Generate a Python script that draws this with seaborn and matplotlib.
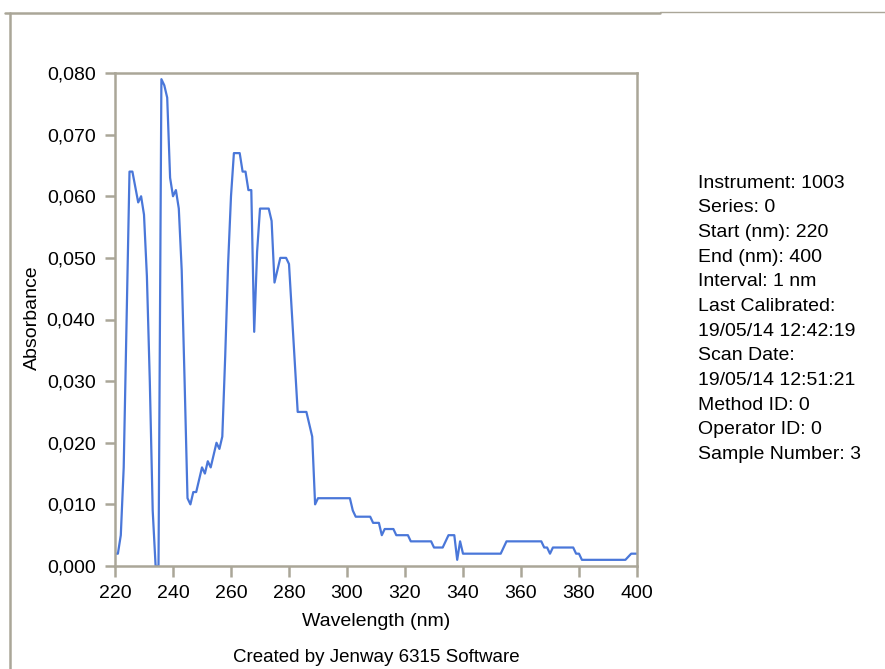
import matplotlib
matplotlib.use("Agg")
import matplotlib.pyplot as plt
from matplotlib.lines import Line2D
from matplotlib.ticker import FuncFormatter
import seaborn as sns
import pandas as pd

wavelength = [220, 221, 222, 223, 225, 226, 228, 229, 230, 231, 232, 233, 234, 235,
              236, 237, 238, 239, 240, 241, 242, 243, 244, 245, 246, 247, 248, 249,
              250, 251, 252, 253, 254, 255, 256, 257, 258, 259, 260, 261, 263, 264,
              265, 266, 267, 268, 269, 270, 273, 274, 275, 276, 277, 279, 280, 281,
              282, 283, 286, 287, 288, 289, 290, 301, 302, 303, 308, 309, 311, 312,
              313, 316, 317, 321, 322, 329, 330, 333, 334, 335, 337, 338, 339, 340,
              352, 353, 355, 367, 368, 369, 370, 371, 378, 379, 380, 381, 396, 398, 400]
absorbance = [0.002, 0.002, 0.005, 0.016, 0.064, 0.064, 0.059, 0.060, 0.057, 0.047, 0.030, 0.009, 0.000, 0.000,
              0.079, 0.078, 0.076, 0.063, 0.060, 0.061, 0.058, 0.048, 0.030, 0.011, 0.010, 0.012, 0.012, 0.014,
              0.016, 0.015, 0.017, 0.016, 0.018, 0.020, 0.019, 0.021, 0.034, 0.049, 0.060, 0.067, 0.067, 0.064,
              0.064, 0.061, 0.061, 0.038, 0.051, 0.058, 0.058, 0.056, 0.046, 0.048, 0.050, 0.050, 0.049, 0.041,
              0.033, 0.025, 0.025, 0.023, 0.021, 0.010, 0.011, 0.011, 0.009, 0.008, 0.008, 0.007, 0.007, 0.005,
              0.006, 0.006, 0.005, 0.005, 0.004, 0.004, 0.003, 0.003, 0.004, 0.005, 0.005, 0.001, 0.004, 0.002,
              0.002, 0.002, 0.004, 0.004, 0.003, 0.003, 0.002, 0.003, 0.003, 0.002, 0.002, 0.001, 0.001, 0.002, 0.002]

x_ticks = [220, 240, 260, 280, 300, 320, 340, 360, 380, 400]
y_ticks = [0.000, 0.010, 0.020, 0.030, 0.040, 0.050, 0.060, 0.070, 0.080]
x_label = "Wavelength (nm)"
y_label = "Absorbance"
footer = "Created by Jenway 6315 Software"
info_lines = ["Instrument: 1003", "Series: 0", "Start (nm): 220", "End (nm): 400",
              "Interval: 1 nm", "Last Calibrated:", "19/05/14 12:42:19", "Scan Date:",
              "19/05/14 12:51:21", "Method ID: 0", "Operator ID: 0", "Sample Number: 3"]

sns.set_theme(style="white")
plt.rcParams["font.family"] = ["Liberation Sans", "DejaVu Sans"]

frame_c = "#aaa698"
W, H = 885, 669
fig = plt.figure(figsize=(W / 100, H / 100), dpi=100)
ax = fig.add_axes([115 / W, 1 - 566 / H, (637 - 115) / W, (566 - 73) / H])

df = pd.DataFrame({"Wavelength": wavelength, "Absorbance": absorbance})
sns.lineplot(data=df, x="Wavelength", y="Absorbance", ax=ax, color="#4a77d9",
             linewidth=1.6, estimator=None, sort=False)

ax.set_xlim(220, 400)
ax.set_ylim(0, 0.080)
ax.set_xticks(x_ticks)
ax.set_yticks(y_ticks)
ax.yaxis.set_major_formatter(FuncFormatter(lambda v, p: f"{v:.3f}".replace(".", ",")))
ax.tick_params(axis="both", which="major", direction="out", color=frame_c,
               width=1.8, labelsize=14, labelcolor="black")
ax.tick_params(axis="x", length=8, pad=6)
ax.tick_params(axis="y", length=7, pad=7)
ax.xaxis.set_ticks_position("bottom")
ax.yaxis.set_ticks_position("left")
for s in ax.spines.values():
    s.set_color(frame_c)
    s.set_linewidth(1.8)
ax.set_xlabel(x_label, fontsize=14, color="black")
ax.set_ylabel(y_label, fontsize=14, color="black")
ax.xaxis.set_label_coords((376 - 115) / 522, -(622 - 566) / 493)
ax.yaxis.set_label_coords((32 - 115) / 522, (566 - 318) / 493)
ax.xaxis.label.set_va("center")
ax.yaxis.label.set_va("center")

fig.text(376 / W, 1 - 657 / H, footer, ha="center", va="center", fontsize=13.5, color="black")
y0 = 183
for i, line in enumerate(info_lines):
    fig.text(698 / W, 1 - (y0 + i * 24.7) / H, line, ha="left", va="center",
             fontsize=14, color="black")

# outer frame
fig.add_artist(Line2D([5 / W, 660 / W], [1 - 13 / H, 1 - 13 / H], color=frame_c, lw=1.8,
                      transform=fig.transFigure))
fig.add_artist(Line2D([660 / W, 1], [1 - 12 / H, 1 - 12 / H], color=frame_c, lw=1.0,
                      transform=fig.transFigure))
fig.add_artist(Line2D([10 / W, 10 / W], [1 - 13 / H, 0], color=frame_c, lw=1.8,
                      transform=fig.transFigure))

fig.savefig("out.png", dpi=100, facecolor="white")
